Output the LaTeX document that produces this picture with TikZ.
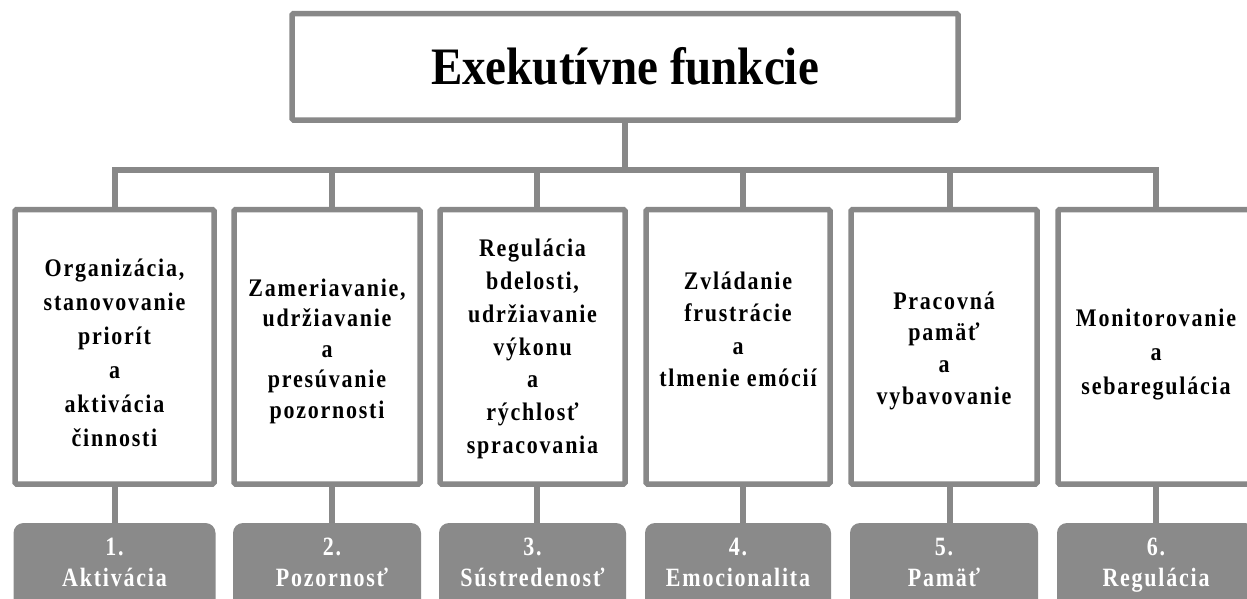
\documentclass[tikz,border=0pt]{standalone}
\usepackage{fontspec}
\usepackage{graphicx}
\setmainfont{Liberation Serif}
\newfontfamily\boxfont[LetterSpace=8]{Liberation Serif}
\definecolor{linegray}{HTML}{888888}
\definecolor{taggray}{HTML}{8A8A8A}
% a centred block of lines, stretched vertically by #1, with line pitch #2
\newcommand\linesblock[3]{\scalebox{1}[#1]{\fontsize{22}{#2}\selectfont
  \begin{tabular}{@{}c@{}}#3\end{tabular}}}

\begin{document}
\begin{tikzpicture}[x=1pt,y=-1pt,
  conn/.style={draw=linegray, line width=5.5pt, line join=miter},
  framebox/.style={draw=linegray, line width=5.5pt, fill=white,
    rounded corners=1.5pt, inner sep=0pt},
  colbox/.style={framebox, minimum height=274.5pt},
  tagbox/.style={fill=taggray, rounded corners=10pt, inner sep=0pt,
    minimum height=97pt},
  boxtxt/.style={inner sep=0pt, font=\boxfont\bfseries},
  tagtxt/.style={inner sep=0pt, text=white, font=\boxfont\bfseries}
]
\path[use as bounding box] (0,0) rectangle (1247,598);
\clip (0,0) rectangle (1247,598);

% title
\node[framebox, minimum width=666pt, minimum height=106.5pt,
  font=\bfseries\fontsize{47}{52}\selectfont] (top) at (625,66.75)
  {\scalebox{1}[1.12]{Exekutívne funkcie}};

% the six columns
\node[colbox, minimum width=199pt] (b1) at (114.5,346.75) {};
\node[colbox, minimum width=186pt] (b2) at (327,346.75) {};
\node[colbox, minimum width=185pt] (b3) at (532.5,346.75) {};
\node[colbox, minimum width=184pt] (b4) at (738,346.75) {};
\node[colbox, minimum width=186pt] (b5) at (944,346.75) {};
\node[colbox, minimum width=196pt] (b6) at (1156,346.75) {};

\node[boxtxt] (t1) at (114.5,355) {\linesblock{1.15}{29.6}
  {Organizácia,\\stanovovanie\\priorít\\a\\aktivácia\\činnosti}};
\node[boxtxt] (t2) at (327,351) {\linesblock{1.15}{26.5}
  {Zameriavanie,\\udržiavanie\\a\\presúvanie\\pozornosti}};
\node[boxtxt] (t3) at (532.5,348.5) {\linesblock{1.15}{28.5}
  {Regulácia\\bdelosti,\\udržiavanie\\výkonu\\a\\rýchlosť\\spracovania}};
\node[boxtxt] (t4) at (738,331.5) {\linesblock{1.15}{28.1}
  {Zvládanie\\frustrácie\\a\\tlmenie emócií}};
\node[boxtxt] (t5) at (944,350.5) {\linesblock{1.15}{27.6}
  {Pracovná\\pamäť\\a\\vybavovanie}};
\node[boxtxt] (t6) at (1156,354) {\linesblock{1.15}{29.6}
  {Monitorovanie\\a\\sebaregulácia}};

% numbered tabs
\node[tagbox, minimum width=202pt] (r1) at (114.5,571.5) {};
\node[tagbox, minimum width=188pt] (r2) at (327,571.5) {};
\node[tagbox, minimum width=187pt] (r3) at (532.5,571.5) {};
\node[tagbox, minimum width=186pt] (r4) at (738,571.5) {};
\node[tagbox, minimum width=188pt] (r5) at (944,571.5) {};
\node[tagbox, minimum width=198pt] (r6) at (1156,571.5) {};

\node[tagtxt] (l1) at (114.5,565) {\linesblock{1.2}{25.8}{1.\\Aktivácia}};
\node[tagtxt] (l2) at (332,565) {\linesblock{1.2}{25.8}{2.\\Pozornosť}};
\node[tagtxt] (l3) at (532.5,565) {\linesblock{1.2}{25.8}{3.\\Sústredenosť}};
\node[tagtxt] (l4) at (738,565) {\linesblock{1.2}{25.8}{4.\\Emocionalita}};
\node[tagtxt] (l5) at (944,565) {\linesblock{1.2}{25.8}{5.\\Pamäť}};
\node[tagtxt] (l6) at (1156,565) {\linesblock{1.2}{25.8}{6.\\Regulácia}};

% junctions on the horizontal bar
\coordinate (hub) at (625,170);
\coordinate (j1) at (115,170);
\coordinate (j2) at (332,170);
\coordinate (j3) at (537,170);
\coordinate (j4) at (743,170);
\coordinate (j5) at (950,170);
\coordinate (j6) at (1156,170);

% connectors
\draw[conn] (top.south) -- (hub);
\draw[conn] (j1 |- b1.north) -- (j1) -- (j6) -- (j6 |- b6.north);
\foreach \i in {2,3,4,5} {
  \draw[conn] (j\i) -- (j\i |- b\i.north);
}
\foreach \i in {1,...,6} {
  \draw[conn] (j\i |- b\i.south) -- (j\i |- r\i.north);
}
\end{tikzpicture}
\end{document}
